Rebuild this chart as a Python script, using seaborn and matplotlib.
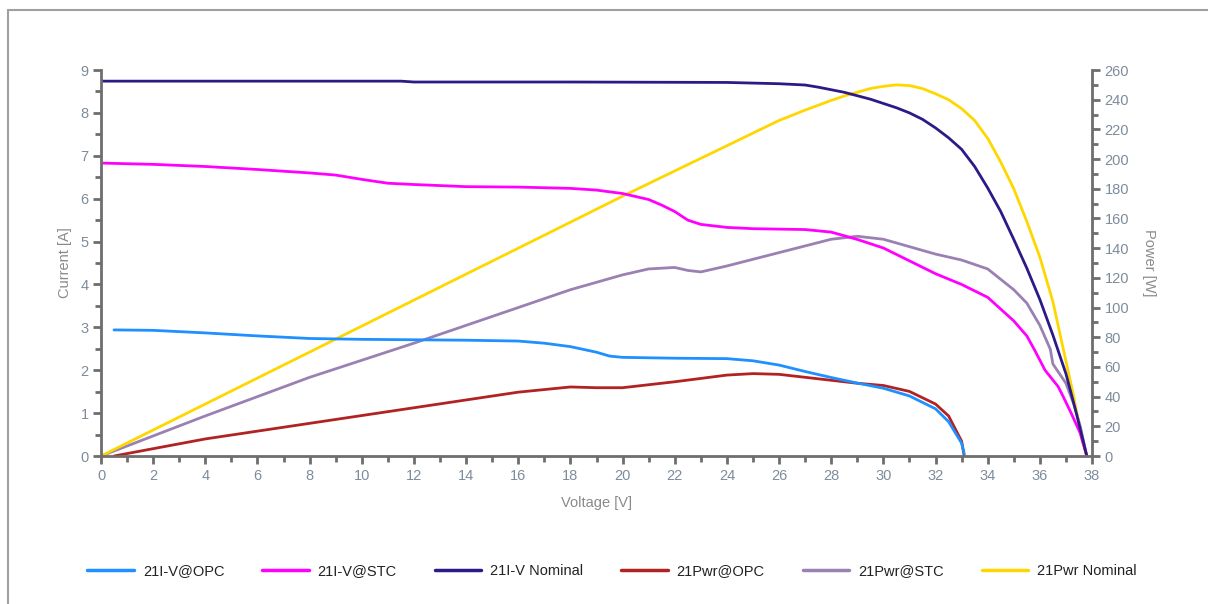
"""
PV module I-V and power curves (module 21): OPC, STC and nominal.
Current on the left axis, power on the right axis.
"""

import matplotlib
matplotlib.use("Agg")
import matplotlib.pyplot as plt
from matplotlib.ticker import MultipleLocator
import pandas as pd
import seaborn as sns

# --- data ---
v_iv_opc = [0.5, 2, 4, 6, 8, 10, 12, 14, 16, 17, 18, 19, 19.5, 20, 22, 24, 25, 26, 27, 28, 29, 30, 31, 32, 32.5, 33, 33.1]
i_iv_opc = [2.94, 2.93, 2.87, 2.8, 2.74, 2.72, 2.71, 2.7, 2.68, 2.63, 2.55, 2.42, 2.33, 2.3, 2.28, 2.27, 2.22, 2.12, 1.97, 1.83, 1.7, 1.58, 1.4, 1.1, 0.8, 0.3, 0.05]

v_iv_stc = [0, 2, 4, 6, 8, 9, 10, 11, 12, 14, 16, 18, 19, 20, 21, 21.5, 22, 22.5, 23, 24, 25, 27, 28, 29, 30, 31, 32, 33, 34, 35,
            35.5, 35.8, 36.2, 36.7, 36.9, 37.2, 37.55, 37.8]
i_iv_stc = [6.83, 6.8, 6.75, 6.68, 6.6, 6.55, 6.45, 6.36, 6.33, 6.28, 6.27, 6.24, 6.2, 6.12, 5.98, 5.85, 5.7, 5.5, 5.4, 5.33, 5.3, 5.28, 5.22, 5.05, 4.85, 4.55, 4.25, 4.0, 3.7, 3.15,
            2.8, 2.47, 2.0, 1.62, 1.38, 1.0, 0.53, 0.0]

v_iv_nom = [0, 5, 11.5, 12, 18, 24, 26, 27, 27.5, 28, 28.5, 29, 29.5, 30, 30.5, 31, 31.5, 32, 32.5, 33, 33.5, 34, 34.5, 35,
            35.5, 36, 36.5, 37, 37.4, 37.8]
i_iv_nom = [8.74, 8.74, 8.74, 8.72, 8.72, 8.71, 8.68, 8.65, 8.6, 8.54, 8.48, 8.4, 8.32, 8.22, 8.12, 8.0, 7.85, 7.65, 7.42, 7.15, 6.75, 6.25, 5.7, 5.05,
            4.38, 3.65, 2.82, 1.92, 1.0, 0.0]

v_pwr_opc = [0.5, 4, 8, 12, 16, 18, 19, 20, 22, 24, 25, 26, 27, 28, 29, 30, 31, 32, 32.5, 33, 33.1]
p_pwr_opc = [0, 11.5, 22, 32.5, 43, 46.5, 46, 46, 50, 54.5, 55.5, 55, 53, 51, 49, 47.5, 43.5, 35, 27, 10, 0]

v_pwr_stc = [0, 4, 8, 10, 12, 14, 16, 18, 20, 21, 22, 22.5, 23, 24, 26, 28, 29, 30, 31, 32, 33, 34, 35,
             35.5, 36, 36.4, 36.5, 37, 37.3, 37.55, 37.8]
p_pwr_stc = [0, 27, 53, 64.5, 76, 88, 100, 112, 122, 126, 127, 125, 124, 128, 137, 146, 148, 146, 141, 136, 132, 126, 112,
             103, 88, 72, 62, 49, 35, 20, 0]

v_pwr_nom = [0, 4, 8, 12, 16, 20, 24, 26, 27, 28, 28.5, 29, 29.5, 30, 30.5, 31, 31.5, 32, 32.5, 33, 33.5, 34, 34.5, 35,
             35.5, 36, 36.5, 37, 37.3, 37.6, 37.8]
p_pwr_nom = [0, 35, 70, 105, 140, 175, 209, 226, 233, 239.5, 242.5, 245, 247.5, 249, 250, 249.5, 247.5, 244, 240, 234, 226, 214, 198, 180,
             158, 134, 104, 64, 40, 12, 0]

series_names = ["21I-V@OPC", "21I-V@STC", "21I-V Nominal", "21Pwr@OPC", "21Pwr@STC", "21Pwr Nominal"]
series_colors = ["#1e90ff", "#ff00ff", "#2e1a87", "#b22222", "#9b80b4", "#ffd700"]

AXIS_GRAY = "#6e6e6e"
TICK_TEXT = "#7d8c9c"
LABEL_GRAY = "#8a8a8a"


def make_frame(v, y, name):
    return pd.DataFrame({"voltage": v, "value": y, "series": name})


def main():
    sns.set_style("white")
    plt.rcParams["font.family"] = ["Liberation Sans", "DejaVu Sans"]

    fig = plt.figure(figsize=(12.08, 6.04), dpi=100)
    ax = fig.add_axes([101 / 1208, 1 - 456 / 604, 991 / 1208, 386 / 604])
    ax2 = ax.twinx()

    current_df = pd.concat([
        make_frame(v_iv_opc, i_iv_opc, series_names[0]),
        make_frame(v_iv_stc, i_iv_stc, series_names[1]),
        make_frame(v_iv_nom, i_iv_nom, series_names[2]),
    ])
    power_df = pd.concat([
        make_frame(v_pwr_opc, p_pwr_opc, series_names[3]),
        make_frame(v_pwr_stc, p_pwr_stc, series_names[4]),
        make_frame(v_pwr_nom, p_pwr_nom, series_names[5]),
    ])
    palette = dict(zip(series_names, series_colors))

    sns.lineplot(data=power_df, x="voltage", y="value", hue="series", palette=palette,
                 sort=False, estimator=None, linewidth=2, ax=ax2, legend=False)
    sns.lineplot(data=current_df, x="voltage", y="value", hue="series", palette=palette,
                 sort=False, estimator=None, linewidth=2, ax=ax, legend=False)
    # keep I-V curves above the power curves like the original
    ax.set_zorder(ax2.get_zorder() + 1)
    ax.patch.set_visible(False)

    ax.set_xlim(0, 38)
    ax.set_ylim(0, 9)
    ax2.set_ylim(0, 260)

    ax.xaxis.set_major_locator(MultipleLocator(2))
    ax.xaxis.set_minor_locator(MultipleLocator(1))
    ax.yaxis.set_major_locator(MultipleLocator(1))
    ax.yaxis.set_minor_locator(MultipleLocator(0.5))
    ax2.yaxis.set_major_locator(MultipleLocator(20))
    ax2.yaxis.set_minor_locator(MultipleLocator(10))

    for a in (ax, ax2):
        a.spines["top"].set_visible(False)
        for side in ("left", "right", "bottom"):
            a.spines[side].set_color(AXIS_GRAY)
            a.spines[side].set_linewidth(2)
        a.tick_params(which="major", length=6, width=2, color=AXIS_GRAY,
                      labelsize=10.5, labelcolor=TICK_TEXT, pad=3)
        a.tick_params(which="minor", length=4, width=2, color=AXIS_GRAY)
    ax.tick_params(axis="y", which="both", left=True, right=False)
    ax.tick_params(axis="x", which="both", bottom=True)
    ax2.tick_params(axis="y", which="both", right=True, left=False)
    ax.spines["right"].set_visible(False)
    ax2.spines["left"].set_visible(False)
    ax2.spines["bottom"].set_visible(False)

    ax.set_xlabel("Voltage [V]", color=LABEL_GRAY, fontsize=10.5, labelpad=10)
    ax.set_ylabel("Current [A]", color=LABEL_GRAY, fontsize=10.5, labelpad=6)
    ax2.set_ylabel("Power [W]", color=LABEL_GRAY, fontsize=10.5, rotation=-90, labelpad=19)

    # legend along the bottom
    handles = [plt.Line2D([], [], color=c, linewidth=2.5) for c in series_colors]
    fig.legend(handles, series_names, loc="center", bbox_to_anchor=(612 / 1208, 1 - 571 / 604),
               ncol=6, frameon=False, fontsize=10.5, handlelength=3.2, handletextpad=0.6,
               columnspacing=2.6, labelcolor="#222222")

    # thin frame around the chart control
    fig.add_artist(plt.Line2D([8 / 1208, 1], [1 - 10 / 604, 1 - 10 / 604], color="#a0a0a0",
                              linewidth=1.5, transform=fig.transFigure))
    fig.add_artist(plt.Line2D([8 / 1208, 8 / 1208], [0, 1 - 10 / 604], color="#a0a0a0",
                              linewidth=1.5, transform=fig.transFigure))

    fig.savefig("out.png", dpi=100)


if __name__ == "__main__":
    main()
